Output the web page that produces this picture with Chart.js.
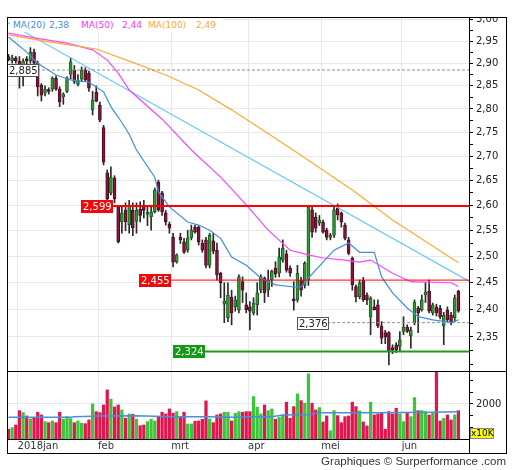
<!DOCTYPE html>
<html>
<head>
<meta charset="utf-8">
<title>Koersgrafiek</title>
<script src="https://cdn.jsdelivr.net/npm/chart.js@4.4.1/dist/chart.umd.min.js"></script>
<style>
  body { margin: 0; background: #fff; }
  #wrap { position: relative; width: 512px; height: 470px; overflow: hidden; font-family: "DejaVu Sans", sans-serif; }
  #wrap canvas { position: absolute; left: 0; }
  #price { top: 17px; }
  #vol { top: 371px; }
  .rule { position: absolute; background: #000; }
  #frame { position: absolute; left: 7px; top: 17px; width: 500px; height: 437px; box-sizing: border-box; border: 1px solid #000; }
  #legend { position: absolute; left: 10px; top: 18px; width: 212px; height: 14px; background: #fff; font-size: 9px; }
  #legend span { position: absolute; top: 2px; white-space: nowrap; }
  #unit { position: absolute; left: 470px; top: 428px; width: 24px; height: 11px; box-sizing: border-box; background: #ffff00; border: 1px solid #888; font-size: 9px; line-height: 9px; text-align: center; color: #000; }
  #credit { position: absolute; right: 6px; top: 455px; font-family: "Liberation Sans", Arial, sans-serif; font-size: 11.5px; color: #333; white-space: nowrap; }
</style>
</head>
<body>
<div id="wrap">
  <canvas id="price" width="512" height="354"></canvas>
  <canvas id="vol" width="512" height="99"></canvas>
  <div id="frame"></div>
  <div class="rule" style="left:7px;top:371px;width:500px;height:1px"></div>
  <div class="rule" style="left:469px;top:439px;width:1px;height:14px"></div>
  <div id="legend"></div>
  <div id="unit">x10K</div>
  <div id="credit">Graphiques © Surperformance .com</div>
</div>
<script>
// --- values, one entry per trading day (index 0 = 27 dec 2017) ---
const monthTicks = [2.5, 24.5, 44.5, 65.5, 85.5, 107.5];
const monthNames = ['2018jan', 'feb', 'mrt', 'apr', 'mei', 'jun'];

const open = [
  2.915,2.905,2.912,2.905,2.890,2.910,2.905,2.925,2.900,2.852,
  2.834,2.842,2.843,2.867,2.843,2.826,2.838,2.876,2.885,2.853,
  2.865,2.885,2.878,2.798,2.836,2.808,2.760,2.666,2.625,2.655,
  2.597,2.567,2.590,2.562,2.590,2.568,2.592,2.600,2.582,2.577,
  2.587,2.647,2.625,2.585,2.563,2.537,2.489,2.537,2.528,2.512,
  2.536,2.557,2.557,2.526,2.532,2.483,2.530,2.512,2.468,2.410,
  2.385,2.423,2.405,2.399,2.452,2.409,2.405,2.394,2.409,2.436,
  2.459,2.436,2.455,2.478,2.468,2.493,2.505,2.478,2.420,2.418,
  2.455,2.445,2.455,2.591,2.577,2.565,2.567,2.551,2.537,2.541,
  2.595,2.585,2.561,2.532,2.497,2.443,2.424,2.455,2.427,2.387,
  2.405,2.409,2.370,2.358,2.358,2.331,2.336,2.333,2.360,2.368,
  2.352,2.376,2.403,2.399,2.427,2.434,2.394,2.405,2.403,2.370,
  2.399,2.390,2.385,2.434];
const high = [
  2.920,2.918,2.915,2.915,2.910,2.915,2.935,2.932,2.905,2.855,
  2.850,2.846,2.870,2.872,2.848,2.835,2.870,2.912,2.895,2.875,
  2.892,2.890,2.882,2.838,2.850,2.815,2.765,2.672,2.678,2.660,
  2.600,2.600,2.605,2.610,2.605,2.605,2.607,2.610,2.597,2.597,
  2.635,2.651,2.628,2.590,2.567,2.545,2.505,2.545,2.535,2.551,
  2.561,2.561,2.560,2.532,2.537,2.545,2.545,2.526,2.470,2.450,
  2.450,2.436,2.425,2.465,2.461,2.431,2.415,2.422,2.450,2.465,
  2.461,2.474,2.474,2.490,2.516,2.532,2.512,2.482,2.452,2.483,
  2.460,2.490,2.599,2.597,2.585,2.580,2.571,2.555,2.545,2.597,
  2.603,2.587,2.565,2.537,2.499,2.446,2.455,2.460,2.431,2.424,
  2.418,2.418,2.378,2.362,2.360,2.336,2.340,2.360,2.387,2.372,
  2.368,2.418,2.406,2.427,2.450,2.455,2.412,2.410,2.408,2.395,
  2.405,2.395,2.427,2.436];
const low = [
  2.905,2.900,2.900,2.845,2.850,2.895,2.900,2.895,2.828,2.817,
  2.828,2.832,2.838,2.840,2.805,2.810,2.835,2.865,2.855,2.850,
  2.860,2.860,2.838,2.787,2.815,2.772,2.682,2.611,2.621,2.605,
  2.526,2.545,2.550,2.545,2.540,2.545,2.567,2.575,2.560,2.551,
  2.585,2.588,2.580,2.561,2.545,2.480,2.487,2.525,2.506,2.508,
  2.532,2.545,2.522,2.508,2.478,2.478,2.505,2.455,2.422,2.376,
  2.378,2.372,2.397,2.394,2.413,2.394,2.363,2.390,2.390,2.431,
  2.413,2.424,2.443,2.460,2.461,2.489,2.470,2.462,2.399,2.414,
  2.425,2.440,2.445,2.537,2.547,2.560,2.545,2.532,2.532,2.537,
  2.571,2.557,2.532,2.503,2.436,2.414,2.420,2.415,2.409,2.354,
  2.399,2.367,2.338,2.338,2.300,2.320,2.322,2.325,2.354,2.358,
  2.330,2.372,2.358,2.397,2.413,2.394,2.390,2.388,2.383,2.336,
  2.378,2.372,2.378,2.395];
const close = [
  2.908,2.912,2.905,2.890,2.905,2.905,2.925,2.900,2.848,2.830,
  2.843,2.838,2.867,2.843,2.815,2.832,2.867,2.903,2.860,2.862,
  2.885,2.863,2.845,2.819,2.817,2.776,2.688,2.613,2.657,2.613,
  2.528,2.585,2.567,2.600,2.556,2.590,2.580,2.590,2.586,2.587,
  2.631,2.591,2.587,2.567,2.555,2.489,2.503,2.532,2.508,2.536,
  2.551,2.547,2.528,2.512,2.483,2.541,2.510,2.465,2.450,2.416,
  2.427,2.394,2.418,2.461,2.436,2.400,2.397,2.412,2.431,2.461,
  2.431,2.455,2.472,2.466,2.499,2.516,2.474,2.468,2.416,2.468,
  2.436,2.487,2.597,2.547,2.555,2.571,2.547,2.537,2.541,2.591,
  2.581,2.567,2.535,2.506,2.446,2.424,2.450,2.418,2.418,2.422,
  2.400,2.370,2.348,2.350,2.323,2.327,2.327,2.345,2.368,2.360,
  2.363,2.414,2.394,2.418,2.433,2.397,2.409,2.394,2.387,2.390,
  2.381,2.376,2.422,2.397];
// volume in units of 10K shares
const volume = [
  902,972,1089,1711,1624,1480,1350,1407,1641,1524,
  1233,1189,1263,1189,1641,1337,1450,1363,1189,1263,
  1163,1146,1306,2002,1667,1624,1959,2611,2207,1872,
  1959,1741,1380,1567,1554,1337,1058,1089,1233,1337,
  1263,1450,1641,1567,1785,1598,1667,1450,1641,1132,
  1132,1250,1263,1337,2133,1350,1189,1524,1567,1641,
  1641,1263,1598,1667,1641,1667,1667,2320,1859,1567,
  1959,1711,1785,1337,1424,1524,2076,1380,1885,2438,
  2146,2033,3308,2033,1741,1842,1219,1480,841,1711,
  1494,1189,1450,1480,2076,1885,1698,1219,1046,2076,
  1524,1567,1598,902,1667,1567,1815,1567,1233,1598,
  1450,2277,1711,1711,1667,1524,1598,3600,1263,1380,
  1524,1306,1524,1711];

// moving averages as drawn (day index, value)
const ma20Day = [0,5,8,13,17,22,26,28,31,33,35,40,41,44,49,52,55,58,61,65,69,73,78,80,82,86,89,93,96,100,102,105,109,112,116,121,123];
const ma20 = [2.959,2.925,2.900,2.874,2.863,2.858,2.837,2.805,2.771,2.746,2.713,2.657,2.627,2.597,2.567,2.561,2.551,2.535,2.499,2.483,2.459,2.446,2.442,2.442,2.459,2.489,2.512,2.526,2.508,2.508,2.461,2.431,2.403,2.387,2.381,2.376,2.381];
const ma50Day = [0,7,16,23,27,30,33,42,50,58,65,71,77,82,86,92,96,99,105,110,121,123];
const ma50 = [2.968,2.957,2.945,2.930,2.907,2.878,2.841,2.778,2.713,2.657,2.601,2.551,2.512,2.503,2.497,2.493,2.489,2.493,2.468,2.452,2.450,2.443];
const ma100Day = [0,11,24,34,43,52,61,77,94,105,123];
const ma100 = [2.964,2.948,2.932,2.902,2.874,2.841,2.798,2.717,2.631,2.571,2.488];
const volMaDay = [0,17,18,25,35,45,55,62,66,72,75,82,85,100,116,123];
const volMa = [1424,1424,1450,1480,1494,1450,1440,1424,1450,1450,1524,1540,1624,1624,1641,1667];

// trend line and marked price levels
const trendDay = [-0.4, 125.9];
const trendVal = [2.993, 2.453];
const levelVal = [2.885, 2.599, 2.455, 2.376, 2.324];
const levelFrom = [-0.4, 19.9, 35.7, 78.9, 45];

// axis ticks
const priceMajor = [2.35,2.40,2.45,2.50,2.55,2.60,2.65,2.70,2.75,2.80,2.85,2.90,2.95,3.00];
const priceMinor = [2.30,2.325,2.375,2.425,2.475,2.525,2.575,2.625,2.675,2.725,2.775,2.825,2.875,2.925,2.975];
const volTicks = [500,1000,1500,2000,2500,3000];
const volLabels = [2000];

const X_MIN = -0.4, X_MAX = 125.9;

// --- styling ---
const FONT = { family: '"DejaVu Sans", sans-serif', size: 10 };
const GRID = '#e8e8e8';
const levelStyle = [
  { line: '#8c8c8c', width: 1, dash: [3, 2], fill: '#ffffff', edge: '#555', text: '#222' },
  { line: '#ff0000', width: 2, dash: [], fill: '#ee0a0a', text: '#fff' },
  { line: '#ff0000', width: 1, dash: [], fill: '#ee0a0a', text: '#fff' },
  { line: '#8c8c8c', width: 1, dash: [3, 2], fill: '#ffffff', edge: '#555', text: '#222' },
  { line: '#1f9a1f', width: 2, dash: [], fill: '#139913', text: '#fff' }
];
const comma = (v, d) => v.toFixed(d).replace('.', ',');
const days = open.map((_, i) => i);
const isUp = i => close[i] >= open[i];

// legend text
const legendItems = [
  ['MA(20)', ma20, '#3d8fdc', 3, 39],
  ['MA(50)', ma50, '#ff33ff', 71, 112],
  ['MA(100)', ma100, '#ffa833', 138, 186]
];
const legendBox = document.getElementById('legend');
legendItems.forEach(([name, arr, color, xName, xVal]) => {
  const a = document.createElement('span');
  a.textContent = name; a.style.left = xName + 'px'; a.style.color = color;
  const b = document.createElement('span');
  b.textContent = comma(arr[arr.length - 1], 2); b.style.left = xVal + 'px'; b.style.color = color;
  legendBox.appendChild(a); legendBox.appendChild(b);
});

// === price panel ===
const tagPlugin = {
  id: 'levelTags',
  afterDatasetsDraw(chart) {
    const { ctx, chartArea } = chart;
    const xs = chart.scales.x, ys = chart.scales.y;
    ctx.save();
    ctx.font = '10px "DejaVu Sans", sans-serif';
    ctx.textBaseline = 'middle';
    levelVal.forEach((v, k) => {
      const st = levelStyle[k];
      const txt = comma(v, 3);
      const w = Math.round(ctx.measureText(txt).width) + 3;
      const px = Math.round(Math.max(xs.getPixelForValue(levelFrom[k]), chartArea.left));
      const py = Math.round(ys.getPixelForValue(v));
      ctx.fillStyle = st.fill;
      ctx.fillRect(px, py - 6, w, 13);
      if (st.edge) {
        ctx.strokeStyle = st.edge; ctx.lineWidth = 1;
        ctx.strokeRect(px + 0.5, py - 5.5, w - 1, 12);
      }
      ctx.fillStyle = st.text;
      ctx.fillText(txt, px + 2, py + 1);
    });
    ctx.restore();
  }
};

const lineSet = (xsArr, ysArr, color, width, order, dash) => ({
  type: 'line',
  data: xsArr.map((d, i) => ({ x: d, y: ysArr[i] })),
  borderColor: color, borderWidth: width, borderDash: dash || [],
  pointRadius: 0, tension: 0, fill: false, order: order
});

const priceSets = [
  {
    type: 'bar', label: 'wick',
    data: days.map(i => ({ x: i, y: [low[i], high[i]] })),
    backgroundColor: '#2a2a2a', barThickness: 1, grouped: false, order: 5
  },
  {
    type: 'bar', label: 'body',
    data: days.map(i => ({ x: i, y: [open[i], close[i]] })),
    backgroundColor: days.map(i => isUp(i) ? '#2f9c36' : '#86173a'),
    borderColor: days.map(i => isUp(i) ? '#1c5a20' : '#4b0b1f'),
    borderWidth: 1, borderSkipped: false, barThickness: 3, minBarLength: 1,
    grouped: false, order: 4
  },
  lineSet(ma100Day, ma100, '#ffaa33', 1.2, 3),
  lineSet(ma50Day, ma50, '#ff44ff', 1.2, 3),
  lineSet(ma20Day, ma20, '#3d8fdc', 1.2, 3),
  lineSet(trendDay, trendVal, '#5cc8f8', 1.2, 3)
];
levelVal.forEach((v, k) => {
  const st = levelStyle[k];
  priceSets.push(lineSet([levelFrom[k], X_MAX], [v, v], st.line, st.width, 1, st.dash));
});

new Chart(document.getElementById('price'), {
  type: 'bar',
  data: { datasets: priceSets },
  plugins: [tagPlugin],
  options: {
    responsive: false, animation: false, events: [],
    layout: { padding: { left: 7, right: 0, top: 0, bottom: 0 } },
    plugins: { legend: { display: false }, tooltip: { enabled: false } },
    scales: {
      x: {
        type: 'linear', min: X_MIN, max: X_MAX, offset: false,
        afterBuildTicks: s => { s.ticks = monthTicks.map(v => ({ value: v })); },
        afterFit: s => { s.height = 0; s.paddingLeft = 0; s.paddingRight = 0; },
        ticks: { display: false },
        grid: { color: GRID, drawTicks: false, offset: false },
        border: { display: false }
      },
      y: {
        type: 'logarithmic', position: 'right', min: 2.2894, max: 3.0049, bounds: 'data',
        afterBuildTicks: s => {
          s.ticks = priceMajor.map(v => ({ value: v, lab: true }))
            .concat(priceMinor.map(v => ({ value: v, lab: false })))
            .sort((a, b) => a.value - b.value);
        },
        afterFit: s => { s.width = 43; s.paddingTop = 0; s.paddingBottom = 0; },
        ticks: {
          autoSkip: false, font: FONT, color: '#222', padding: 3,
          callback: (v, i, t) => t[i].lab ? comma(v, 2) : ''
        },
        grid: {
          color: c => (c.tick && c.tick.lab) ? GRID : 'rgba(0,0,0,0)',
          tickColor: '#000', tickLength: 4, offset: false
        },
        border: { color: '#000', width: 1 }
      }
    }
  }
});

// === volume panel ===
new Chart(document.getElementById('vol'), {
  type: 'bar',
  data: {
    datasets: [
      {
        type: 'bar', label: 'volume',
        data: days.map(i => ({ x: i, y: volume[i] })),
        backgroundColor: days.map(i => isUp(i) ? '#3cc43c' : '#e0164e'),
        barThickness: 2.6, grouped: false, order: 2
      },
      lineSet(volMaDay, volMa, '#4a90d9', 1.5, 1)
    ]
  },
  options: {
    responsive: false, animation: false, events: [],
    layout: { padding: { left: 7, right: 0, top: 0, bottom: 0 } },
    plugins: { legend: { display: false }, tooltip: { enabled: false } },
    scales: {
      x: {
        type: 'linear', min: X_MIN, max: X_MAX, offset: false,
        afterBuildTicks: s => { s.ticks = monthTicks.map(v => ({ value: v })); },
        afterFit: s => { s.height = 31; s.paddingLeft = 0; s.paddingRight = 0; },
        ticks: {
          autoSkip: false, maxRotation: 0, align: 'start', font: FONT, color: '#333', padding: 1,
          callback: v => monthNames[monthTicks.indexOf(v)]
        },
        grid: { color: GRID, drawTicks: false, offset: false },
        border: { color: '#000', width: 1 }
      },
      y: {
        type: 'linear', position: 'right', min: 480, max: 3430, beginAtZero: false, bounds: 'data',
        afterBuildTicks: s => { s.ticks = volTicks.map(v => ({ value: v })); },
        afterFit: s => { s.width = 43; s.paddingTop = 0; s.paddingBottom = 0; },
        ticks: {
          autoSkip: false, font: FONT, color: '#222', padding: 3,
          callback: v => volLabels.includes(v) ? String(v) : ''
        },
        grid: {
          color: c => (c.tick && volLabels.includes(c.tick.value)) ? GRID : 'rgba(0,0,0,0)',
          tickColor: '#000', tickLength: 4
        },
        border: { color: '#000', width: 1 }
      }
    }
  }
});
</script>
</body>
</html>
